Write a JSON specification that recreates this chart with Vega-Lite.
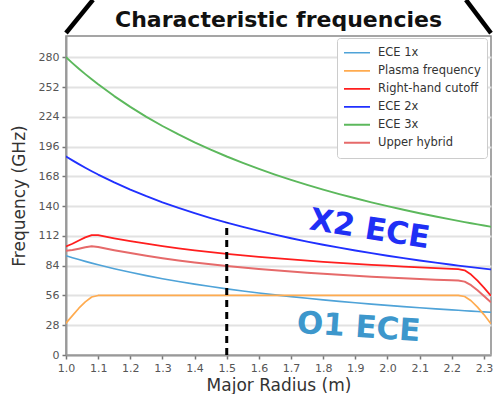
{
  "$schema": "https://vega.github.io/schema/vega-lite/v6.json",
  "width": 425,
  "height": 319,
  "autosize": {"type": "none"},
  "padding": {"left": 66, "top": 36, "right": 3, "bottom": 39},
  "title": {"text": "Characteristic frequencies", "fontSize": 22, "fontWeight": "bold", "font": "DejaVu Sans", "color": "#111111", "anchor": "middle", "offset": 9, "dy": 50},
  "config": {"view": {"stroke": "#888888", "strokeWidth": 1.5}, "font": "DejaVu Sans", "axis": {"labelOverlap": false, "labelFlush": false}},
  "encoding": {
    "x": {"field": "R", "type": "quantitative", "scale": {"domain": [1.0, 2.322], "nice": false, "zero": false},
      "axis": {"values": [1.0, 1.1, 1.2, 1.3, 1.4, 1.5, 1.6, 1.7, 1.8, 1.9, 2.0, 2.1, 2.2, 2.3], "format": ".1f", "labelOverlap": false, "labelFlush": false, "grid": false, "tickSize": 4, "tickColor": "#777777", "tickWidth": 1.5, "domainColor": "#999999", "domainWidth": 2, "labelFontSize": 11, "labelColor": "#555555", "labelPadding": 3, "title": "Major Radius (m)", "titleFontSize": 17, "titleFontWeight": "normal", "titleColor": "#333333", "titlePadding": 4}},
    "y": {"field": "freq", "type": "quantitative", "scale": {"domain": [0, 300], "nice": false},
      "axis": {"values": [0, 28, 56, 84, 112, 140, 168, 196, 224, 252, 280], "labelOverlap": false, "labelFlush": false, "grid": true, "gridColor": "#e2e2e2", "gridWidth": 2, "tickSize": 4, "tickColor": "#777777", "tickWidth": 1.5, "domainColor": "#999999", "domainWidth": 2, "labelFontSize": 11, "labelColor": "#555555", "labelPadding": 3, "title": "Frequency (GHz)", "titleFontSize": 17, "titleFontWeight": "normal", "titleColor": "#333333", "titlePadding": 10}}
  },
  "layer": [
    {
      "data": {"values": [
        {"R": 1.00, "ECE 1x": 93.33, "Plasma frequency": 30, "Right-hand cutoff": 102.15, "ECE 2x": 186.67, "ECE 3x": 280.0, "Upper hybrid": 98.04},
        {"R": 1.02, "ECE 1x": 91.50, "Plasma frequency": 37, "Right-hand cutoff": 104.59, "ECE 2x": 183.01, "ECE 3x": 274.51, "Upper hybrid": 98.70},
        {"R": 1.04, "ECE 1x": 89.74, "Plasma frequency": 44, "Right-hand cutoff": 107.71, "ECE 2x": 179.49, "ECE 3x": 269.23, "Upper hybrid": 99.95},
        {"R": 1.06, "ECE 1x": 88.05, "Plasma frequency": 50, "Right-hand cutoff": 110.65, "ECE 2x": 176.10, "ECE 3x": 264.15, "Upper hybrid": 101.26},
        {"R": 1.08, "ECE 1x": 86.42, "Plasma frequency": 54.5, "Right-hand cutoff": 112.76, "ECE 2x": 172.84, "ECE 3x": 259.26, "Upper hybrid": 102.17},
        {"R": 1.10, "ECE 1x": 84.85, "Plasma frequency": 56, "Right-hand cutoff": 112.68, "ECE 2x": 169.70, "ECE 3x": 254.55, "Upper hybrid": 101.66},
        {"R": 1.15, "ECE 1x": 81.16, "Plasma frequency": 56, "Right-hand cutoff": 109.74, "ECE 2x": 162.32, "ECE 3x": 243.48, "Upper hybrid": 98.61},
        {"R": 1.20, "ECE 1x": 77.78, "Plasma frequency": 56, "Right-hand cutoff": 107.07, "ECE 2x": 155.56, "ECE 3x": 233.33, "Upper hybrid": 95.84},
        {"R": 1.25, "ECE 1x": 74.67, "Plasma frequency": 56, "Right-hand cutoff": 104.63, "ECE 2x": 149.33, "ECE 3x": 224.0, "Upper hybrid": 93.34},
        {"R": 1.30, "ECE 1x": 71.79, "Plasma frequency": 56, "Right-hand cutoff": 102.42, "ECE 2x": 143.59, "ECE 3x": 215.38, "Upper hybrid": 91.05},
        {"R": 1.35, "ECE 1x": 69.14, "Plasma frequency": 56, "Right-hand cutoff": 100.38, "ECE 2x": 138.27, "ECE 3x": 207.41, "Upper hybrid": 88.97},
        {"R": 1.40, "ECE 1x": 66.67, "Plasma frequency": 56, "Right-hand cutoff": 98.50, "ECE 2x": 133.33, "ECE 3x": 200.0, "Upper hybrid": 87.07},
        {"R": 1.45, "ECE 1x": 64.37, "Plasma frequency": 56, "Right-hand cutoff": 96.77, "ECE 2x": 128.74, "ECE 3x": 193.10, "Upper hybrid": 85.32},
        {"R": 1.50, "ECE 1x": 62.22, "Plasma frequency": 56, "Right-hand cutoff": 95.17, "ECE 2x": 124.44, "ECE 3x": 186.67, "Upper hybrid": 83.71},
        {"R": 1.55, "ECE 1x": 60.22, "Plasma frequency": 56, "Right-hand cutoff": 93.69, "ECE 2x": 120.43, "ECE 3x": 180.65, "Upper hybrid": 82.23},
        {"R": 1.60, "ECE 1x": 58.33, "Plasma frequency": 56, "Right-hand cutoff": 92.31, "ECE 2x": 116.67, "ECE 3x": 175.0, "Upper hybrid": 80.86},
        {"R": 1.65, "ECE 1x": 56.57, "Plasma frequency": 56, "Right-hand cutoff": 91.02, "ECE 2x": 113.13, "ECE 3x": 169.70, "Upper hybrid": 79.60},
        {"R": 1.70, "ECE 1x": 54.90, "Plasma frequency": 56, "Right-hand cutoff": 89.82, "ECE 2x": 109.80, "ECE 3x": 164.71, "Upper hybrid": 78.42},
        {"R": 1.75, "ECE 1x": 53.33, "Plasma frequency": 56, "Right-hand cutoff": 88.70, "ECE 2x": 106.67, "ECE 3x": 160.0, "Upper hybrid": 77.33},
        {"R": 1.80, "ECE 1x": 51.85, "Plasma frequency": 56, "Right-hand cutoff": 87.64, "ECE 2x": 103.70, "ECE 3x": 155.56, "Upper hybrid": 76.32},
        {"R": 1.85, "ECE 1x": 50.45, "Plasma frequency": 56, "Right-hand cutoff": 86.65, "ECE 2x": 100.90, "ECE 3x": 151.35, "Upper hybrid": 75.37},
        {"R": 1.90, "ECE 1x": 49.12, "Plasma frequency": 56, "Right-hand cutoff": 85.71, "ECE 2x": 98.25, "ECE 3x": 147.37, "Upper hybrid": 74.49},
        {"R": 1.95, "ECE 1x": 47.86, "Plasma frequency": 56, "Right-hand cutoff": 84.83, "ECE 2x": 95.73, "ECE 3x": 143.59, "Upper hybrid": 73.67},
        {"R": 2.00, "ECE 1x": 46.67, "Plasma frequency": 56, "Right-hand cutoff": 84.00, "ECE 2x": 93.33, "ECE 3x": 140.0, "Upper hybrid": 72.90},
        {"R": 2.05, "ECE 1x": 45.53, "Plasma frequency": 56, "Right-hand cutoff": 83.21, "ECE 2x": 91.06, "ECE 3x": 136.59, "Upper hybrid": 72.17},
        {"R": 2.10, "ECE 1x": 44.44, "Plasma frequency": 56, "Right-hand cutoff": 82.47, "ECE 2x": 88.89, "ECE 3x": 133.33, "Upper hybrid": 71.49},
        {"R": 2.15, "ECE 1x": 43.41, "Plasma frequency": 56, "Right-hand cutoff": 81.77, "ECE 2x": 86.82, "ECE 3x": 130.23, "Upper hybrid": 70.86},
        {"R": 2.20, "ECE 1x": 42.42, "Plasma frequency": 56, "Right-hand cutoff": 81.09, "ECE 2x": 84.85, "ECE 3x": 127.27, "Upper hybrid": 70.25},
        {"R": 2.22, "ECE 1x": 42.04, "Plasma frequency": 56, "Right-hand cutoff": 80.84, "ECE 2x": 84.08, "ECE 3x": 126.13, "Upper hybrid": 70.03},
        {"R": 2.24, "ECE 1x": 41.67, "Plasma frequency": 55, "Right-hand cutoff": 79.65, "ECE 2x": 83.33, "ECE 3x": 125.0, "Upper hybrid": 69.00},
        {"R": 2.26, "ECE 1x": 41.30, "Plasma frequency": 51, "Right-hand cutoff": 75.67, "ECE 2x": 82.60, "ECE 3x": 123.89, "Upper hybrid": 65.62},
        {"R": 2.28, "ECE 1x": 40.94, "Plasma frequency": 45, "Right-hand cutoff": 69.91, "ECE 2x": 81.87, "ECE 3x": 122.81, "Upper hybrid": 60.84},
        {"R": 2.30, "ECE 1x": 40.58, "Plasma frequency": 38, "Right-hand cutoff": 63.37, "ECE 2x": 81.16, "ECE 3x": 121.74, "Upper hybrid": 55.59},
        {"R": 2.32, "ECE 1x": 40.23, "Plasma frequency": 30, "Right-hand cutoff": 56.23, "ECE 2x": 80.46, "ECE 3x": 120.69, "Upper hybrid": 50.18}
      ]},
      "transform": [{"fold": ["ECE 1x", "Plasma frequency", "Right-hand cutoff", "ECE 2x", "ECE 3x", "Upper hybrid"], "as": ["series", "freq"]}],
      "mark": {"type": "line", "strokeCap": "round", "strokeJoin": "round", "clip": true},
      "encoding": {
        "color": {"field": "series", "type": "nominal",
          "scale": {"domain": ["ECE 1x", "Plasma frequency", "Right-hand cutoff", "ECE 2x", "ECE 3x", "Upper hybrid"], "range": ["#4fa3d8", "#ffab4f", "#ff1e1e", "#2030ff", "#5cb85c", "#e66a6a"]},
          "legend": {"orient": "none", "legendX": 271, "legendY": 2, "title": null, "fillColor": "#ffffff", "strokeColor": "#cccccc", "padding": 6, "cornerRadius": 3, "symbolType": "stroke", "symbolSize": 676, "clipHeight": 17.6, "labelFontSize": 11.5, "labelColor": "#333333", "rowPadding": 0, "labelOffset": 7}},
        "strokeWidth": {"field": "series", "type": "nominal",
          "scale": {"domain": ["ECE 1x", "Plasma frequency", "Right-hand cutoff", "ECE 2x", "ECE 3x", "Upper hybrid"], "range": [1.6, 2, 3.2, 3.2, 1.6, 2]},
          "legend": {"orient": "none", "legendX": 271, "legendY": 2, "title": null, "fillColor": "#ffffff", "strokeColor": "#cccccc", "padding": 6, "cornerRadius": 3, "symbolType": "stroke", "symbolSize": 676, "clipHeight": 17.6, "labelFontSize": 11.5, "labelColor": "#333333", "rowPadding": 0, "labelOffset": 7}}
      }
    },
    {
      "data": {"values": [{"R": 1.5, "freq": 0, "top": 124.4}]},
      "mark": {"type": "rule", "color": "#000000", "strokeWidth": 3, "strokeDash": [7, 5]},
      "encoding": {"y2": {"field": "top"}}
    },
    {
      "data": {"values": [{"R": 1.944, "freq": 117.6, "label": "X2 ECE"}]},
      "mark": {"type": "text", "font": "DejaVu Sans", "fontWeight": "bold", "fontSize": 31, "angle": 9, "color": "#1f2ff5", "align": "center", "baseline": "middle"},
      "encoding": {"text": {"field": "label"}}
    },
    {
      "data": {"values": [{"R": 1.91, "freq": 25.4, "label": "O1 ECE"}]},
      "mark": {"type": "text", "font": "DejaVu Sans", "fontWeight": "bold", "fontSize": 31, "angle": 4, "color": "#3d97cc", "align": "center", "baseline": "middle"},
      "encoding": {"text": {"field": "label"}}
    },
    {
      "data": {"values": [
        {"g": "a", "R": 1.0, "freq": 302.8},
        {"g": "a", "R": 1.084, "freq": 334},
        {"g": "b", "R": 2.322, "freq": 302.8},
        {"g": "b", "R": 2.244, "freq": 334}
      ]},
      "mark": {"type": "line", "color": "#000000", "strokeWidth": 4.5, "clip": false},
      "encoding": {"detail": {"field": "g"}}
    }
  ]
}
